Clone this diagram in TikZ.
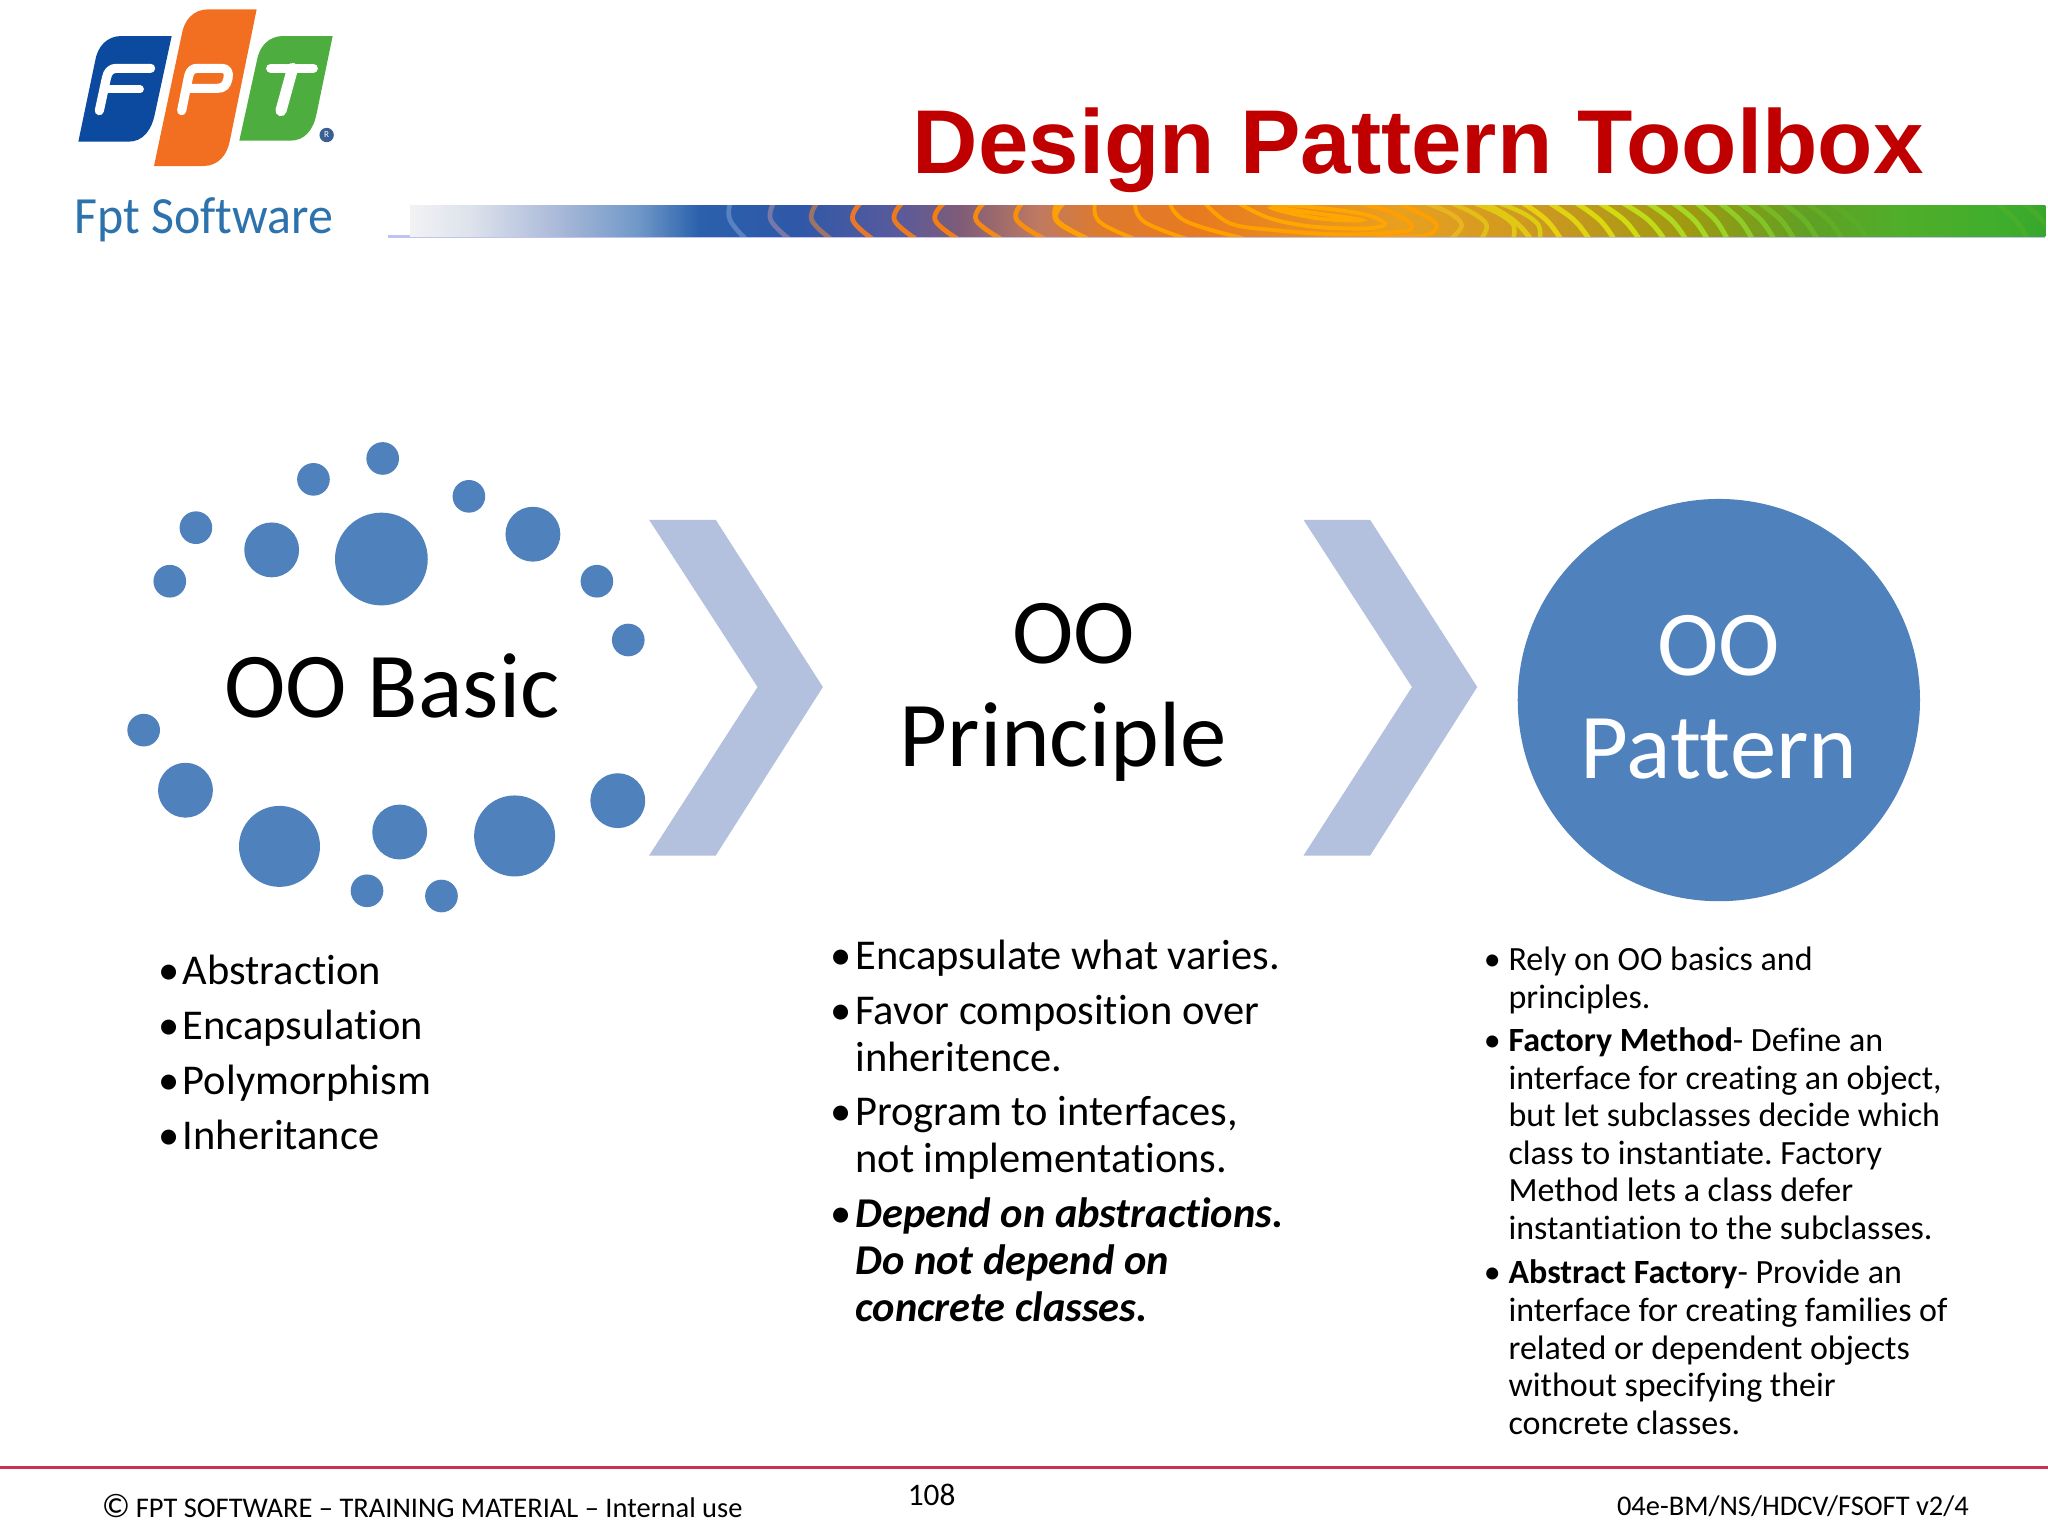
\documentclass[tikz,border=0pt]{standalone}
\usepackage{fontspec}
\setmainfont[Ligatures={NoCommon,TeX}]{Carlito}
\newfontfamily\titlefont{Liberation Sans}
\usetikzlibrary{shadings}
\frenchspacing
\definecolor{blueaccent}{HTML}{4F81BD}
\definecolor{chev}{HTML}{B3C1DE}
\definecolor{fptblue}{HTML}{0B4A9E}
\definecolor{fptorange}{HTML}{F26F21}
\definecolor{fptgreen}{HTML}{4DAE3F}
\definecolor{titlered}{HTML}{C00000}
\definecolor{softblue}{HTML}{2C72AC}
\definecolor{footred}{HTML}{C9314F}
\definecolor{bnA}{HTML}{F2F2F4}
\definecolor{bnB}{HTML}{DDE2EC}
\definecolor{bnC}{HTML}{A8B8D8}
\definecolor{bnD}{HTML}{6F98C8}
\definecolor{bnE}{HTML}{2A60AC}
\definecolor{bnF}{HTML}{2F58A8}
\definecolor{bnG}{HTML}{5A5A9C}
\definecolor{bnH}{HTML}{7E5C78}
\definecolor{bnI}{HTML}{C07A60}
\definecolor{bnJ}{HTML}{DC7A30}
\definecolor{bnK}{HTML}{E87A20}
\definecolor{bnL}{HTML}{E8A020}
\definecolor{bnM}{HTML}{C89820}
\definecolor{bnN}{HTML}{A09A10}
\definecolor{bnO}{HTML}{60A024}
\definecolor{bnP}{HTML}{50AE2A}
\definecolor{bnQ}{HTML}{40AE2C}
\definecolor{bnR}{HTML}{38A62C}
\pgfdeclarehorizontalshading{bannershade}{100bp}{
 color(0bp)=(bnA);
 color(25bp)=(bnA);
 color(26.85bp)=(bnB);
 color(29.6bp)=(bnC);
 color(32bp)=(bnD);
 color(33.85bp)=(bnE);
 color(36.9bp)=(bnF);
 color(39.95bp)=(bnG);
 color(41.8bp)=(bnH);
 color(44.25bp)=(bnI);
 color(46bp)=(bnJ);
 color(49.1bp)=(bnK);
 color(55.2bp)=(bnL);
 color(60bp)=(bnM);
 color(64bp)=(bnN);
 color(67.7bp)=(bnO);
 color(70.5bp)=(bnP);
 color(73.5bp)=(bnQ);
 color(75bp)=(bnR);
 color(100bp)=(bnR)}
\newcommand{\lnsL}[1]{\begin{tabular}[t]{@{}l@{}}#1\end{tabular}}
\newcommand{\lnsC}[1]{\begin{tabular}[t]{@{}c@{}}#1\end{tabular}}
\tikzset{
 txt/.style={inner sep=0pt,outer sep=0pt,anchor=base west,text=black},
 colA/.style={txt,font=\fontsize{32.5}{42}\selectfont},
 colB/.style={txt,font=\fontsize{32.5}{36}\selectfont},
 colC/.style={txt,font=\fontsize{26}{28.75}\selectfont},
 head/.style={inner sep=0pt,outer sep=0pt,anchor=base,font=\fontsize{71}{79}\selectfont},
 foot/.style={txt,font=\fontsize{21.8}{24}\selectfont},
 dotc/.style={fill=blueaccent},
 chevron/.style={fill=chev,draw=none},
 logoletter/.style={draw=white,line cap=round,line join=round},
 ring/.style={line width=3pt,line cap=round},
 zoomunits/.style={x=0.2552pt,y=-0.2552pt}
}
\begin{document}
\begin{tikzpicture}[x=1pt,y=-1pt]
\useasboundingbox (0,0) rectangle (1568,1176);
\fill[white] (0,0) rectangle (1568,1176);

% logo
\begin{scope}[zoomunits]
 \fill[fptblue] (515,108) -- (365,108) .. controls (320,108) and (292,140) .. (285,185) -- (235,425) -- (385,425) .. controls (430,425) and (455,390) .. (465,340) -- cycle;
 \fill[fptorange] (770,28) -- (625,28) .. controls (580,28) and (552,60) .. (545,105) -- (462,498) -- (610,498) .. controls (655,498) and (682,465) .. (690,420) -- cycle;
 \fill[fptgreen] (998,108) -- (850,108) .. controls (805,108) and (777,140) .. (770,185) -- (718,422) -- (870,422) .. controls (915,422) and (940,390) .. (950,340) -- cycle;
 \draw[logoletter,line width=7pt] (452,205) -- (350,205) .. controls (332,205) and (323,215) .. (319,235) -- (298,332);
 \draw[logoletter,line width=6pt] (315,268) -- (420,268);
 \draw[logoletter,line width=7pt] (545,332) -- (566,228) .. controls (570,212) and (578,205) .. (592,205) -- (665,205) .. controls (682,205) and (688,218) .. (684,235) .. controls (680,255) and (672,265) .. (652,265) -- (562,265);
 \draw[logoletter,line width=7pt] (812,205) -- (940,205);
 \draw[logoletter,line width=8.5pt] (878,205) -- (843,332);
 \fill[fptblue!60!gray] (980,405) circle[radius=5.5pt];
 \node[txt,anchor=center,text=white,font=\fontsize{7}{8}\selectfont] (logoR) at (980,405) {R};
\end{scope}
\node[txt,text=softblue,xscale=0.955,font=\fontsize{40}{44}\selectfont] (fptsoft) at (57,179) {Fpt Software};

% banner
\fill[gray!40!blue!30!white] (297,180) rectangle (1566,182);
\begin{scope}
 \clip (314,157) rectangle (1566,181);
 \shade[shading=bannershade] (314,157) rectangle (1566,181);
 % far-left part of the ring pattern
 \begin{scope}[zoomunits,xshift=428.8pt,yshift=-149.3pt]
  \foreach \a/\b/\c/\d/\o in {510/510/555/7A9AD0/.6,640/632/685/8A80A8/.8,770/755/810/A87860/.9,900/878/935/E87828/1,1025/1003/1065/EE7A1E/1,1150/1125/1190/F57E14/1,1270/1248/1320/F58A12/1,1385/1370/1450/F8900E/1,1510/1490/1580/FBA010/1}{
   \definecolor{ringc}{HTML}{\d}
   \draw[ring,ringc,opacity=\o,line width=3.6pt] plot[smooth,tension=.7] coordinates {(\a,25) (\b,75) (\c,130)};
  }
 \end{scope}
 % centre of the ring pattern
 \begin{scope}[zoomunits,xshift=796.3pt,yshift=-149.3pt]
  \foreach \a/\b/\c in {50/50/140,165/178/280,285/312/435,390/440/610}{
   \draw[ring,draw=orange!75!yellow] plot[smooth,tension=.7] coordinates {(\a,25) (\b,80) (\c,130)};
  }
  \draw[ring,draw=orange!70!yellow] plot[smooth cycle,tension=.6] coordinates {(700,38) (830,55) (965,75) (850,72) (740,52)};
  \draw[ring,draw=orange!70!yellow] plot[smooth,tension=.6] coordinates {(600,27) (690,70) (820,95) (980,100) (1035,85) (960,55) (800,35) (680,25)};
  \draw[ring,draw=orange!75!yellow] plot[smooth,tension=.6] coordinates {(495,25) (570,85) (700,105) (900,118) (1080,110) (1115,90) (1050,50) (960,25)};
  \draw[ring,draw=orange!75!yellow] plot[smooth,tension=.6] coordinates {(1000,128) (1150,122) (1190,90) (1140,55) (1075,25)};
  \foreach \a/\b/\c/\d/\e in {1235/1265/1230/1160/E8B420,1325/1340/1300/1235/E4BE18,1420/1420/1375/1305/E0C814,1500/1495/1450/1380/DCCC12}{
   \definecolor{ringc}{HTML}{\e}
   \draw[ring,ringc,line width=3.4pt] plot[smooth,tension=.6] coordinates {(\a,130) (\b,90) (\c,55) (\d,25)};
  }
 \end{scope}
 % right part of the ring pattern
 \begin{scope}[zoomunits,xshift=1163.9pt,yshift=-149.3pt]
  \foreach \a/\c/\d/\o in {-105/30/E0C814/1,10/120/E8D010/1,90/205/E0D410/1,170/280/DCD810/1,240/355/D0DC10/1,310/430/C0DC18/1,385/495/B0D820/1,460/560/A4D822/1,530/620/9CD424/1,600/695/90CC28/1,660/760/84C828/.9,720/820/7CC428/.7,790/890/70C028/.6,860/965/68BC28/.4,930/1040/60B828/.3,1430/1520/60B828/.3,1510/1600/60B828/.3}{
   \definecolor{ringc}{HTML}{\d}
   \pgfmathsetmacro{\m}{\a+0.62*(\c-\a)}
   \draw[ring,ringc,opacity=\o,line width=3.8pt] plot[smooth,tension=.7] coordinates {(\a,25) (\m,75) (\c,130)};
  }
 \end{scope}
\end{scope}

\node[txt,text=titlered,font=\titlefont\bfseries\fontsize{69.4}{80}\selectfont] (title) at (699,133) {Design Pattern Toolbox};

% dots
\foreach \x/\y/\r in {293/351/12.5,240/367/12.5,150/404/12.5,130/445/12.5,359/380/12.5,457/445/12.5,481/490/12.5,110/559/12.5,281/682/12.5,338/686/12.5,208/421/21,408/409/21,142/605/21,306/637/21,473/613/21,292/428/35.5,214/648/31,394/640/31}{
 \fill[dotc] (\x,\y) circle[radius=\r pt];
}
\node[head] (basic) at (300,549) {OO Basic};

% chevrons
\fill[chevron] (497,398) -- (548,398) -- (630,526) -- (548,655) -- (497,655) -- (580,526) -- cycle;
\fill[chevron] (998,398) -- (1049,398) -- (1131,526) -- (1049,655) -- (998,655) -- (1081,526) -- cycle;

\node[head] (principle) at (814,508) {\lnsC{\hspace*{16pt}OO\\Principle}};

\fill[dotc] (1316,536) circle[radius=154pt];
\node[head,text=white] (pattern) at (1316,517) {\lnsC{OO\\Pattern}};

% column 1
\node[colA] (a0) at (140,754) {\lnsL{Abstraction\\Encapsulation\\Polymorphism\\Inheritance}};
\foreach \n/\y in {1/754,2/796,3/838,4/880}{\node[colA] (ab\n) at (121.5,\y) {\textbullet};}

% column 2
\node[colB] (b1) at (655,742) {Encapsulate what varies.};
\node[colB] (b2) at (655,784) {\lnsL{Favor composition over\\inheritence.}};
\node[colB] (b3) at (655,862) {\lnsL{Program to interfaces,\\not implementations.}};
\node[colB] (b4) at (655,940) {\lnsL{\textbf{\textit{Depend on abstractions.}}\\\textbf{\textit{Do not depend on}}\\\textbf{\textit{concrete classes.}}}};
\foreach \n/\y in {1/742,2/784,3/862,4/940}{\node[colB] (bb\n) at (636,\y) {\textbullet};}

% column 3
\node[colC] (c1) at (1155,743) {\lnsL{Rely on OO basics and\\principles.}};
\node[colC] (c2) at (1155,805) {\lnsL{\textbf{Factory Method}- Define an\\interface for creating an object,\\but let subclasses decide which\\class to instantiate. Factory\\Method lets a class defer\\instantiation to the subclasses.}};
\node[colC] (c3) at (1155,983) {\lnsL{\textbf{Abstract Factory}- Provide an\\interface for creating families of\\related or dependent objects\\without specifying their\\concrete classes.}};
\foreach \n/\y in {1/743,2/805,3/983}{\node[colC] (cb\n) at (1136,\y) {\textbullet};}

% footer
\draw[footred,line width=2.5pt] (0,1123.8) -- (1568,1123.8);
\node[foot,font=\fontsize{26}{28}\selectfont] (copy) at (78,1162) {©};
\node[foot] (foot1) at (104,1162) {FPT SOFTWARE – TRAINING MATERIAL – Internal use};
\node[foot,font=\fontsize{24}{26}\selectfont] (pageno) at (695,1153) {108};
\node[foot] (foot2) at (1238,1160) {04e-BM/NS/HDCV/FSOFT v2/4};
\end{tikzpicture}
\end{document}
